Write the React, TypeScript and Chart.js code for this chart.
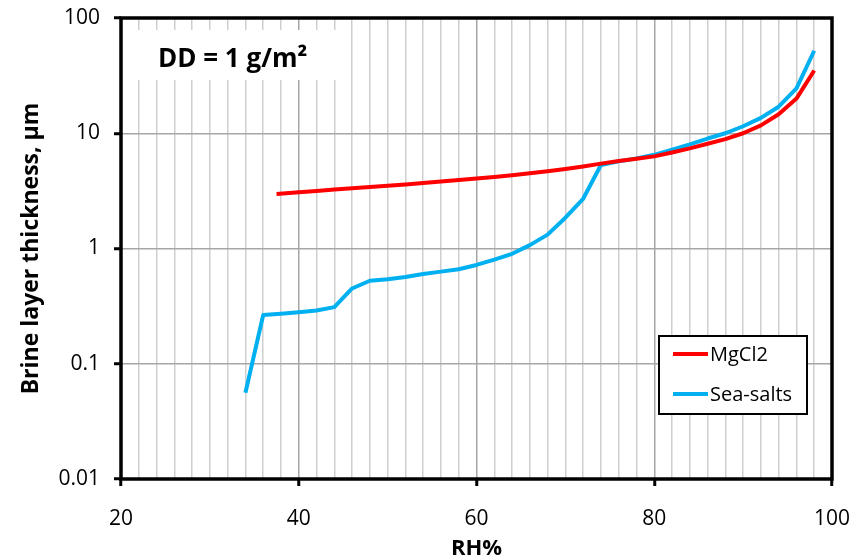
import React, { useEffect, useRef } from "react";
import { Chart, registerables } from "chart.js";

Chart.register(...registerables);

const mgcl2RH = [37.5, 40, 42, 44, 46, 48, 50, 52, 54, 56, 58, 60, 62, 64, 66, 68, 70, 72, 74, 76, 78, 80, 82, 84, 86, 88, 90, 92, 94, 96, 98];
const mgcl2Thickness = [2.97, 3.07, 3.15, 3.25, 3.33, 3.42, 3.5, 3.6, 3.7, 3.82, 3.93, 4.05, 4.17, 4.32, 4.5, 4.68, 4.9, 5.15, 5.45, 5.75, 6.0, 6.3, 6.8, 7.4, 8.1, 8.9, 10.0, 11.7, 14.6, 20, 35];

const seaRH = [34, 36, 38, 40, 42, 44, 46, 48, 50, 52, 54, 56, 58, 60, 62, 64, 66, 68, 70, 72, 74, 76, 78, 80, 82, 84, 86, 88, 90, 92, 94, 96, 98];
const seaThickness = [0.056, 0.265, 0.272, 0.28, 0.29, 0.31, 0.45, 0.525, 0.54, 0.565, 0.6, 0.63, 0.66, 0.72, 0.8, 0.9, 1.07, 1.32, 1.85, 2.7, 5.3, 5.7, 6.05, 6.5, 7.2, 8.0, 9.0, 10.0, 11.5, 13.6, 17, 24.5, 52];

const seriesNames = ["MgCl2", "Sea-salts"];
const seriesColors = ["#ff0000", "#00b0f0"];
const yTicks = [0.01, 0.1, 1, 10, 100];
const xTickLabels = [20, 40, 60, 80, 100];
const annotationText = "DD = 1 g/m²";
const xTitle = "RH%";
const yTitle = "Brine layer thickness, µm";

const FONT = "'Open Sans', sans-serif";

const decor = {
  id: "decor",
  beforeDatasetsDraw(chart: any) {
    const { ctx, chartArea } = chart;
    ctx.save();
    ctx.fillStyle = "#ffffff";
    ctx.fillRect(chartArea.left + 2, 30, 337 - chartArea.left, 50);
    ctx.fillStyle = "#000";
    ctx.font = `bold 26px ${FONT}`;
    ctx.textBaseline = "alphabetic";
    ctx.textAlign = "left";
    ctx.fillText(annotationText, 158, 67);
    ctx.restore();
  },
  afterDraw(chart: any) {
    const { ctx, chartArea } = chart;
    ctx.save();
    ctx.strokeStyle = "#000";
    ctx.lineWidth = 3.5;
    ctx.strokeRect(chartArea.left, chartArea.top, chartArea.right - chartArea.left, chartArea.bottom - chartArea.top);
    // legend
    const lx = 659, ly = 336, lw = 148, lh = 78;
    ctx.fillStyle = "#fff";
    ctx.fillRect(lx, ly, lw, lh);
    ctx.lineWidth = 2;
    ctx.strokeRect(lx, ly, lw, lh);
    ctx.font = `20px ${FONT}`;
    ctx.textBaseline = "middle";
    ctx.textAlign = "left";
    chart.data.datasets.forEach((ds: any, i: number) => {
      const yy = ly + 18 + i * 40;
      ctx.strokeStyle = ds.borderColor;
      ctx.lineWidth = 4;
      ctx.beginPath();
      ctx.moveTo(673, yy);
      ctx.lineTo(708, yy);
      ctx.stroke();
      ctx.fillStyle = "#000";
      ctx.fillText(ds.label, 710, yy + 1);
    });
    ctx.restore();
  },
};

export default function App() {
  const ref = useRef<HTMLCanvasElement | null>(null);
  useEffect(() => {
    if (!ref.current) return;
    const chart = new Chart(ref.current, {
      type: "scatter",
      data: {
        datasets: [
          {
            label: seriesNames[0],
            data: mgcl2RH.map((x, i) => ({ x, y: mgcl2Thickness[i] })),
            borderColor: seriesColors[0],
            backgroundColor: seriesColors[0],
            showLine: true,
            borderWidth: 4,
            pointRadius: 0,
            tension: 0,
            borderJoinStyle: "round",
          },
          {
            label: seriesNames[1],
            data: seaRH.map((x, i) => ({ x, y: seaThickness[i] })),
            borderColor: seriesColors[1],
            backgroundColor: seriesColors[1],
            showLine: true,
            borderWidth: 4,
            pointRadius: 0,
            tension: 0,
            borderJoinStyle: "round",
          },
        ],
      },
      options: {
        animation: false,
        responsive: false,
        maintainAspectRatio: false,
        layout: { padding: { top: 18, right: 31, left: 0, bottom: 0 } },
        plugins: { legend: { display: false }, tooltip: { enabled: false } },
        scales: {
          x: {
            type: "linear",
            min: 20,
            max: 100,
            afterFit: (s: any) => { s.height = 81; s.paddingLeft = 0; s.paddingRight = 0; },
            ticks: {
              stepSize: 2,
              autoSkip: false,
              maxRotation: 0,
              padding: 20,
              color: "#000",
              font: { family: FONT, size: 21 },
              callback: (v: any) => (xTickLabels.includes(Number(v)) ? String(v) : ""),
            },
            grid: {
              color: (c: any) => (c.tick && Number(c.tick.value) % 20 === 0 ? "#a6a6a6" : "#cfcfcf"),
              lineWidth: 1.5,
              drawTicks: true,
              tickLength: 7,
              tickWidth: 3,
              tickColor: (c: any) => (c.tick && Number(c.tick.value) % 20 === 0 ? "#000" : "rgba(0,0,0,0)"),
            },
            border: { display: false },
            title: {
              display: true,
              text: xTitle,
              color: "#000",
              font: { family: FONT, size: 22, weight: "bold", lineHeight: 1.05 },
              padding: { top: 0, bottom: 0 },
            },
          },
          y: {
            type: "logarithmic",
            min: 0.01,
            max: 100,
            afterFit: (s: any) => { s.width = 121; s.paddingTop = 0; s.paddingBottom = 0; },
            afterBuildTicks: (s: any) => { s.ticks = yTicks.map((v) => ({ value: v })); },
            ticks: {
              padding: 14,
              color: "#000",
              font: { family: FONT, size: 21 },
              callback: (v: any) => String(v),
            },
            grid: {
              color: "#a6a6a6",
              lineWidth: 1.5,
              drawTicks: true,
              tickLength: 7,
              tickWidth: 3,
              tickColor: "#000",
            },
            border: { display: false },
            title: {
              display: true,
              text: yTitle,
              color: "#000",
              font: { family: FONT, size: 23, weight: "bold" },
              padding: { top: 18, bottom: 0 },
            },
          },
        },
      },
      plugins: [decor],
    } as any);
    return () => chart.destroy();
  }, []);
  return (
    <div style={{ position: "fixed", left: 0, top: 0, width: 863, height: 560, background: "#fff" }}>
      <canvas ref={ref} width={863} height={560} style={{ display: "block" }} />
    </div>
  );
}
